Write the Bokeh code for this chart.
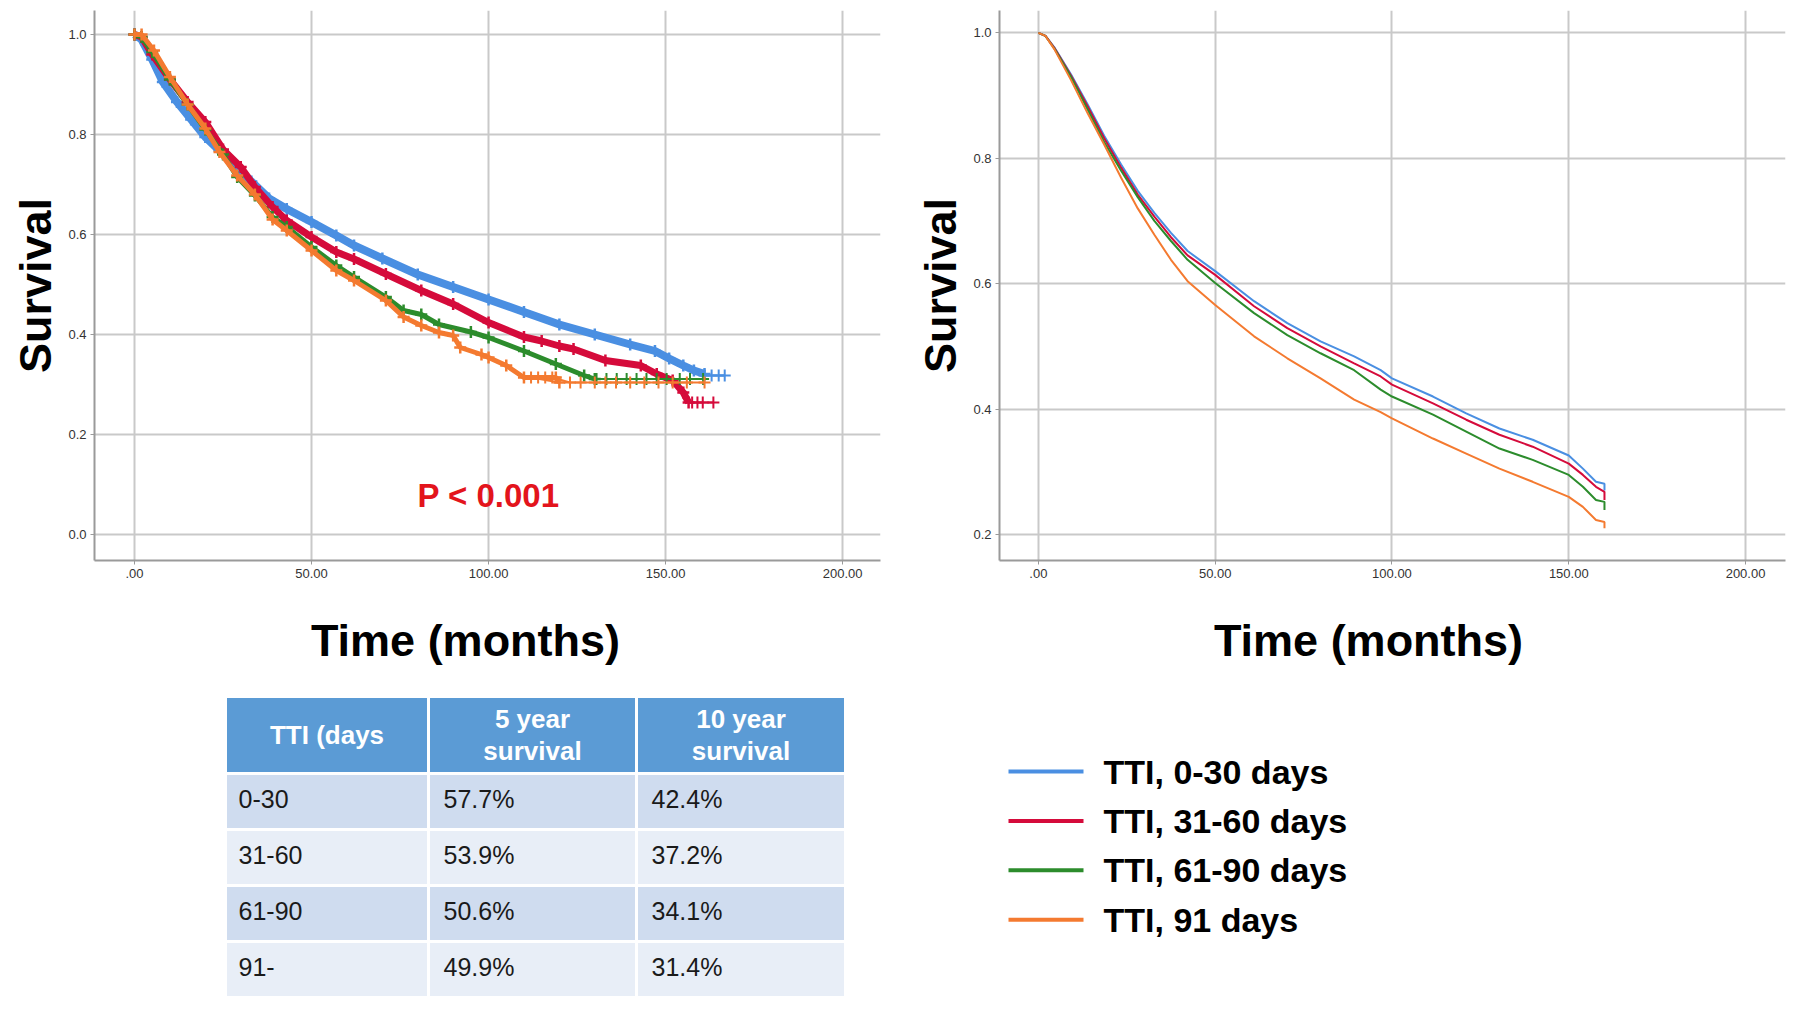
from bokeh.plotting import figure
from bokeh.models import Range1d, FixedTicker, Label
from bokeh.layouts import column, row
from bokeh.embed import file_html
from bokeh.resources import INLINE
from bokeh.core.properties import value

# ---------------- data ----------------
series_names = ["TTI, 0-30 days", "TTI, 31-60 days", "TTI, 61-90 days", "TTI, 91 days"]
colors = ["#4A8FE2", "#D50B3B", "#2C8C2C", "#F47A30"]

x_ticks = [0.0, 50.0, 100.0, 150.0, 200.0]
x_tick_labels = [".00", "50.00", "100.00", "150.00", "200.00"]
y_ticks_left = [0.0, 0.2, 0.4, 0.6, 0.8, 1.0]
y_tick_labels_left = ["0.0", "0.2", "0.4", "0.6", "0.8", "1.0"]
y_ticks_right = [0.2, 0.4, 0.6, 0.8, 1.0]
y_tick_labels_right = ["0.2", "0.4", "0.6", "0.8", "1.0"]

# Kaplan-Meier curves (left panel)
km_t_0_30 = [0, 2, 5, 8, 12, 16, 20, 24, 28, 33, 38, 43, 50, 57, 62, 70, 80, 90, 100, 110, 120, 130, 140, 147, 151, 155, 158, 161]
km_s_0_30 = [1.0, 0.99, 0.95, 0.905, 0.865, 0.83, 0.795, 0.768, 0.742, 0.706, 0.672, 0.651, 0.625, 0.598, 0.578, 0.552, 0.52, 0.495, 0.470, 0.445, 0.420, 0.400, 0.380, 0.367, 0.352, 0.338, 0.328, 0.321]
km_t_31_60 = [0, 2, 5, 10, 15, 20, 25, 30, 34, 39, 43, 50, 57, 62, 71, 81, 90, 100, 110, 115, 120, 124, 133, 143, 147.5, 152, 155, 156.5]
km_s_31_60 = [1.0, 0.995, 0.96, 0.91, 0.865, 0.825, 0.77, 0.735, 0.695, 0.655, 0.628, 0.595, 0.565, 0.551, 0.521, 0.488, 0.461, 0.424, 0.395, 0.387, 0.377, 0.371, 0.348, 0.338, 0.321, 0.308, 0.284, 0.264]
km_t_61_90 = [0, 2, 5, 10, 15, 20, 25, 29, 34, 39, 43, 50, 57, 62, 71, 76, 81, 86, 95, 100, 110, 119, 127, 130]
km_s_61_90 = [1.0, 0.995, 0.965, 0.91, 0.86, 0.81, 0.76, 0.715, 0.678, 0.635, 0.615, 0.575, 0.538, 0.515, 0.475, 0.448, 0.44, 0.42, 0.405, 0.394, 0.367, 0.341, 0.318, 0.311]
km_t_91 = [0, 2, 5.5, 10, 15, 20, 24, 29, 34, 39, 43, 50, 57, 62, 71, 76, 81, 86, 90, 92, 98, 100, 105, 110, 119, 120]
km_s_91 = [1.0, 1.0, 0.968, 0.915, 0.86, 0.812, 0.765, 0.718, 0.68, 0.63, 0.608, 0.568, 0.528, 0.508, 0.468, 0.435, 0.418, 0.404, 0.398, 0.374, 0.36, 0.354, 0.338, 0.314, 0.314, 0.304]

# censored observations in the tails (left panel)
cen_t_0_30 = [161, 163, 165, 166.7]
cen_s_0_30 = [0.318, 0.318, 0.318, 0.318]
cen_t_31_60 = [157.5, 159, 160.5, 163.5]
cen_s_31_60 = [0.264, 0.264, 0.264, 0.264]
cen_t_61_90 = [130.5, 133.3, 136.2, 139, 141.8, 144.6, 147.5, 150.3, 154, 156.9, 160.6]
cen_s_61_90 = [0.311] * 11
cen_t_91 = [112, 114, 116, 118, 123, 126, 130, 133, 136, 140, 144, 148, 152, 156, 161]
cen_s_91 = [0.314, 0.314, 0.314, 0.314, 0.304, 0.304, 0.304, 0.304, 0.304, 0.304, 0.304, 0.304, 0.304, 0.304, 0.304]

# adjusted survival curves (right panel)
adj_t = [0, 2, 4.5, 9.2, 13.9, 18.6, 23.4, 28.1, 32.8, 37.5, 42.2, 50, 61, 70.4, 79.8, 89.3, 96.8, 100, 111.6, 121, 130.4, 139.8, 150, 154, 157.7, 160.1, 160.1]
adj_s_0_30 = [1.0, 0.995, 0.977, 0.934, 0.886, 0.836, 0.790, 0.748, 0.713, 0.681, 0.652, 0.620, 0.572, 0.537, 0.508, 0.484, 0.462, 0.449, 0.420, 0.393, 0.369, 0.351, 0.326, 0.305, 0.284, 0.281, 0.270]
adj_s_31_60 = [1.0, 0.995, 0.976, 0.932, 0.883, 0.832, 0.785, 0.742, 0.707, 0.674, 0.645, 0.614, 0.564, 0.529, 0.500, 0.473, 0.452, 0.439, 0.409, 0.383, 0.359, 0.340, 0.313, 0.295, 0.276, 0.268, 0.255]
adj_s_61_90 = [1.0, 0.995, 0.975, 0.930, 0.878, 0.826, 0.780, 0.738, 0.700, 0.668, 0.638, 0.601, 0.553, 0.518, 0.489, 0.462, 0.431, 0.420, 0.391, 0.364, 0.337, 0.319, 0.295, 0.276, 0.255, 0.252, 0.239]
adj_s_91 = [1.0, 0.995, 0.974, 0.925, 0.872, 0.822, 0.769, 0.720, 0.678, 0.638, 0.604, 0.566, 0.516, 0.481, 0.449, 0.415, 0.395, 0.385, 0.353, 0.329, 0.305, 0.284, 0.260, 0.244, 0.223, 0.220, 0.210]

# table
tti_groups = ["0-30", "31-60", "61-90", "91-"]
five_year = [57.7, 53.9, 50.6, 49.9]
ten_year = [42.4, 37.2, 34.1, 31.4]
table_headers = ["TTI (days", "5 year\nsurvival", "10 year\nsurvival"]

p_value_text = "P < 0.001"
x_title = "Time (months)"
y_title = "Survival"

FONT = "Liberation Sans"


def style_km(p, yt, ytl):
    p.xaxis.ticker = FixedTicker(ticks=x_ticks)
    p.yaxis.ticker = FixedTicker(ticks=yt)
    p.xgrid.ticker = FixedTicker(ticks=x_ticks)
    p.ygrid.ticker = FixedTicker(ticks=yt)
    p.xaxis.major_label_overrides = dict(zip(x_ticks, x_tick_labels))
    p.yaxis.major_label_overrides = dict(zip(yt, ytl))
    p.grid.grid_line_color = "#C9C9C9"
    p.grid.grid_line_width = 2
    p.outline_line_color = None
    for ax in (p.xaxis, p.yaxis):
        ax.axis_line_color = "#9A9A9A"
        ax.axis_line_width = 2
        ax.major_tick_line_color = "#9A9A9A"
        ax.major_tick_in = 0
        ax.major_tick_out = 4
        ax.minor_tick_line_color = None
        ax.major_label_text_font = FONT
        ax.major_label_text_font_size = "13px"
        ax.major_label_text_color = "#333333"
        ax.major_label_standoff = 4
    p.yaxis.axis_label = y_title
    p.yaxis.axis_label_text_font = FONT
    p.yaxis.axis_label_text_font_style = "bold"
    p.yaxis.axis_label_text_font_size = "45px"
    p.yaxis.axis_label_text_color = "#000000"
    p.yaxis.axis_label_standoff = 4


# ---------------- left panel ----------------
p1 = figure(width=912, height=600, x_range=Range1d(-11.3, 210.7), y_range=Range1d(-0.052, 1.048),
            output_backend="svg", toolbar_location=None,
            min_border_left=94, min_border_right=32, min_border_top=10, min_border_bottom=40)
style_km(p1, y_ticks_left, y_tick_labels_left)

km_t = [km_t_0_30, km_t_31_60, km_t_61_90, km_t_91]
km_s = [km_s_0_30, km_s_31_60, km_s_61_90, km_s_91]
cen_t = [cen_t_0_30, cen_t_31_60, cen_t_61_90, cen_t_91]
cen_s = [cen_s_0_30, cen_s_31_60, cen_s_61_90, cen_s_91]
widths = [8, 7, 5, 5]
for t, s, ct, cs, c, w in zip(km_t, km_s, cen_t, cen_s, colors, widths):
    p1.line(t + ct, s + cs, line_color=c, line_width=2)
    p1.line(t, s, line_color=c, line_width=w)
    p1.scatter(t, s, marker="cross", size=12, line_color=c, line_width=2.5)
    p1.scatter(ct, cs, marker="cross", size=12, line_color=c, line_width=2)

p1.add_layout(Label(x=100, y=0.078, text=p_value_text, text_align="center", text_baseline="middle",
                    text_font=FONT, text_font_style="bold", text_font_size="33px", text_color="#E3141C"))

# ---------------- right panel ----------------
p2 = figure(width=880, height=600, x_range=Range1d(-11.0, 211.3), y_range=Range1d(0.1585, 1.0356),
            output_backend="svg", toolbar_location=None,
            min_border_left=86, min_border_right=7, min_border_top=10, min_border_bottom=40)
style_km(p2, y_ticks_right, y_tick_labels_right)
for s, c in zip([adj_s_0_30, adj_s_31_60, adj_s_61_90, adj_s_91], colors):
    p2.line(adj_t, s, line_color=c, line_width=2)

# ---------------- bottom: axis titles, table + legend ----------------
p3 = figure(width=1792, height=415, x_range=Range1d(0, 1792), y_range=Range1d(1015, 600),
            output_backend="svg", toolbar_location=None, x_axis_location=None, y_axis_location=None,
            min_border=0)
p3.grid.visible = False
p3.outline_line_color = None

# x-axis titles of both panels
p3.text(x=[465, 1368], y=[639.5, 639.5], text=[x_title, x_title],
        text_font=value(FONT), text_font_style="bold", text_font_size="45px", text_color="#000000",
        text_align="center", text_baseline="middle")

col_edges = [225, 428, 636, 845]
row_edges = [696, 773, 829, 885, 941, 997]
band_colors = ["#CFDCEF", "#E8EEF7"]

# header cells
p3.quad(left=col_edges[:-1], right=col_edges[1:], top=[row_edges[0]] * 3, bottom=[row_edges[1]] * 3,
        fill_color="#5B9BD5", line_color="white", line_width=3)
hx = [(a + b) / 2 for a, b in zip(col_edges[:-1], col_edges[1:])]
p3.text(x=hx, y=[(row_edges[0] + row_edges[1]) / 2] * 3, text=table_headers,
        text_font=value(FONT), text_font_style="bold", text_font_size="26px", text_color="white",
        text_align="center", text_baseline="middle", text_line_height=1.05)

# body cells
for i, (g, f5, f10) in enumerate(zip(tti_groups, five_year, ten_year)):
    top, bot = row_edges[i + 1], row_edges[i + 2]
    p3.quad(left=col_edges[:-1], right=col_edges[1:], top=[top] * 3, bottom=[bot] * 3,
            fill_color=band_colors[i % 2], line_color="white", line_width=3)
    p3.text(x=[col_edges[0] + 13, col_edges[1] + 15, col_edges[2] + 15], y=[(top + bot) / 2 - 3] * 3,
            text=[g, f"{f5:.1f}%", f"{f10:.1f}%"],
            text_font=value(FONT), text_font_size="25px", text_color="#1A1A1A",
            text_align="left", text_baseline="middle")

# legend (drawn as line samples + labels)
leg_x0, leg_x1, leg_text_x = 1008, 1083, 1103
leg_y = [771 + 49.4 * k for k in range(len(series_names))]
p3.segment(x0=[leg_x0] * 4, x1=[leg_x1] * 4, y0=leg_y, y1=leg_y, line_color=colors, line_width=4)
p3.text(x=[leg_text_x] * 4, y=leg_y, text=series_names,
        text_font=value(FONT), text_font_style="bold", text_font_size="34px", text_color="#000000",
        text_align="left", text_baseline="middle")

layout = column(row(p1, p2, spacing=0), p3, spacing=0)
open("out.html", "w").write(file_html(layout, INLINE))
